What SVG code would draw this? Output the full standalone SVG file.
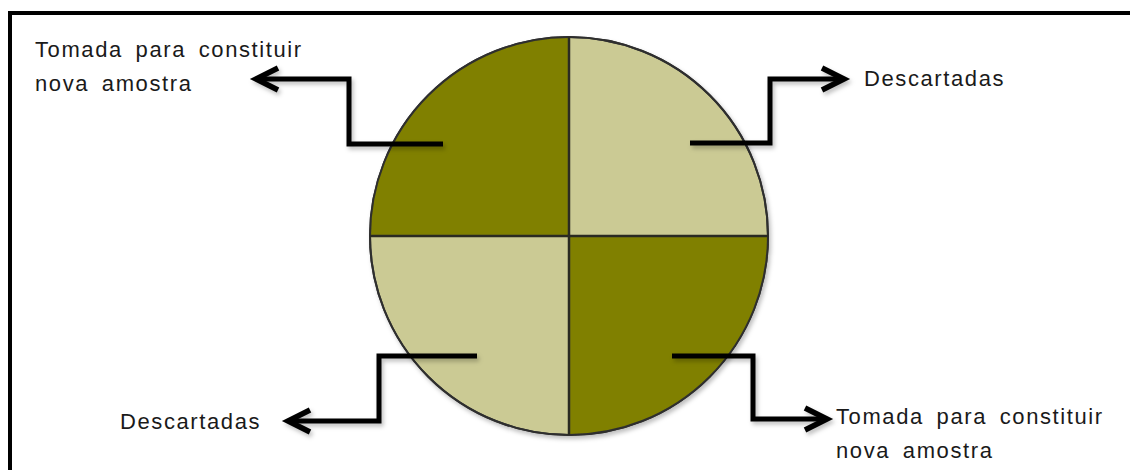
<svg xmlns="http://www.w3.org/2000/svg" width="1130" height="470" viewBox="0 0 1130 470">
<style>
.lbl{font-family:"Liberation Sans",Arial,sans-serif;font-size:22px;letter-spacing:1.6px;word-spacing:5px;fill:#1a1a1a}
.conn{fill:none;stroke:#000;stroke-width:5;stroke-linejoin:miter}
.div{stroke:#2a2a20;stroke-width:2.5}
</style>
<defs>
<marker id="arr" markerUnits="userSpaceOnUse" markerWidth="34" markerHeight="34" refX="26" refY="14" orient="auto">
<path d="M4,3 L26,14 L4,25" fill="none" stroke="#000" stroke-width="5.5" stroke-linejoin="miter"/>
</marker>
<filter id="sh" x="-10%" y="-10%" width="130%" height="130%">
<feDropShadow dx="2" dy="3" stdDeviation="2" flood-color="#000" flood-opacity="0.25"/>
</filter>
</defs>
<rect x="10" y="13" width="1140" height="480" fill="#fff" stroke="#000" stroke-width="4"/>
<g id="circle" filter="url(#sh)">
<circle cx="569" cy="236" r="199" fill="#cbca94" stroke="#2f2f2f" stroke-width="2"/>
<path d="M569,236 L370,236 A199,199 0 0 1 569,37 Z" fill="#808000"/>
<path d="M569,236 L768,236 A199,199 0 0 1 569,435 Z" fill="#808000"/>
<circle cx="569" cy="236" r="199" fill="none" stroke="#2f2f2f" stroke-width="2"/>
<line class="div" x1="569" y1="37" x2="569" y2="435"/>
<line class="div" x1="370" y1="236" x2="768" y2="236"/>
</g>
<g id="connectors" filter="url(#sh)">
<polyline class="conn" points="443,144 349,144 349,79 256,79" marker-end="url(#arr)"/>
<polyline class="conn" points="690,143 770,143 770,79 844,79" marker-end="url(#arr)"/>
<polyline class="conn" points="477,356 379,356 379,421 288,421" marker-end="url(#arr)"/>
<polyline class="conn" points="672,356 753,356 753,419 827,419" marker-end="url(#arr)"/>
</g>
<g id="label-tl">
<text class="lbl" x="35" y="57">Tomada para constituir</text>
<text class="lbl" x="35" y="91">nova amostra</text>
</g>
<g id="label-tr">
<text class="lbl" x="864" y="86">Descartadas</text>
</g>
<g id="label-bl">
<text class="lbl" x="120" y="429">Descartadas</text>
</g>
<g id="label-br">
<text class="lbl" x="836" y="424">Tomada para constituir</text>
<text class="lbl" x="836" y="458">nova amostra</text>
</g>
</svg>
